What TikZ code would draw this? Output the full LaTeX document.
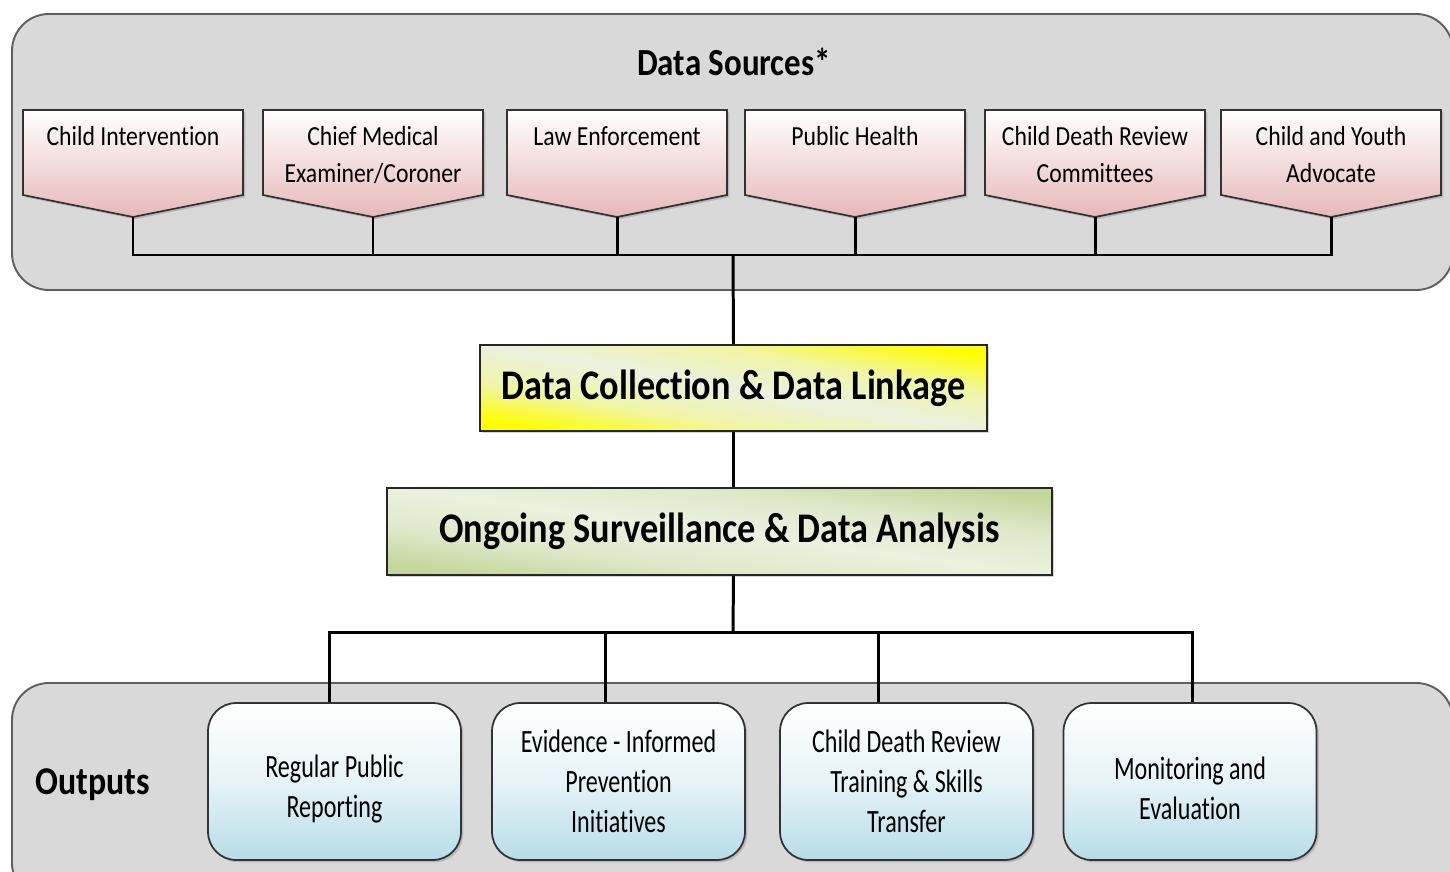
\documentclass[tikz,border=0pt]{standalone}
\usepackage{fontspec}
\setmainfont{Carlito}[FakeStretch=0.86, Ligatures=NoCommon]
\newfontfamily\condfont{Carlito}[FakeStretch=0.74, Ligatures=NoCommon]
\usetikzlibrary{calc,shadows}

\definecolor{panelgray}{HTML}{D9D9D9}
\definecolor{paneledge}{HTML}{5F5F5F}
\definecolor{srcpink}{HTML}{E6B9B8}
\definecolor{outblue}{HTML}{B7DDE8}
\definecolor{palegreen}{HTML}{EBF1DE}
\definecolor{olivegreen}{HTML}{C3D69B}

% pale along the diagonal, coloured lower left and upper right corners
\pgfdeclarehorizontalshading{dcshade}{100bp}{color(0bp)=(yellow); color(25bp)=(yellow);
  color(37.5bp)=(palegreen!75!yellow); color(50bp)=(palegreen);
  color(62.5bp)=(palegreen!75!yellow); color(75bp)=(yellow); color(100bp)=(yellow)}
\pgfdeclarehorizontalshading{osshade}{100bp}{color(0bp)=(olivegreen); color(25bp)=(olivegreen);
  color(37.5bp)=(palegreen!70!olivegreen); color(50bp)=(palegreen);
  color(62.5bp)=(palegreen!70!olivegreen); color(75bp)=(olivegreen); color(100bp)=(olivegreen)}

\begin{document}
\begin{tikzpicture}[
  x=0.02cm, y=-0.02cm,
  every node/.style={inner sep=1pt},
  boxshadow/.style={drop shadow={shadow xshift=1.3pt, shadow yshift=-1.3pt, opacity=0.35}},
  panel/.style={draw=paneledge, line width=1.1pt, fill=panelgray, rounded corners=21pt},
  srcbox/.style={draw=black!80, line width=1pt, top color=white, bottom color=srcpink, boxshadow},
  srctext/.style={anchor=base, inner sep=0pt, align=center, font=\fontsize{15.7}{21}\selectfont},
  title/.style={font=\bfseries\fontsize{21.8}{26}\selectfont},
  stage/.style={draw=black!85, line width=1pt, boxshadow,
    font=\bfseries\fontsize{24}{28}\selectfont},
  outbox/.style={draw=black!80, line width=1pt, rounded corners=16pt, align=center,
    minimum width=5.06cm, minimum height=3.14cm, top color=white, bottom color=outblue,
    middle color=outblue!35, boxshadow, font=\condfont\fontsize{18.5}{22.7}\selectfont},
  link/.style={draw, line width=1.7pt}]

  \useasboundingbox (0,0) rectangle (1450,872);
  \clip (0,0) rectangle (1450,872);

  % the two grey panels
  \path[panel] (12,14) rectangle (1453,290);
  \path[panel] (12,683) rectangle (1453,900);

  \node[title] (sources) at (734,62) {Data Sources*};
  \node[title, font=\bfseries\fontsize{22.4}{26}\selectfont] (outputs) at (93,785) {Outputs};

  % data sources (y = baseline of the last line)
  \foreach \id/\cx/\by/\txt in {ci/133/145/{Child Intervention},
      cme/373/182/{Chief Medical\\Examiner/Coroner},
      le/617/145/{Law Enforcement},
      ph/855/145/{Public Health},
      cdr/1095/182/{Child Death Review\\Committees},
      cya/1331/182/{Child and Youth\\Advocate}} {
    \path[srcbox] (\cx-110,110) -- (\cx+110,110) -- (\cx+110,195) -- (\cx,217)
      -- (\cx-110,195) -- cycle;
    \node[srctext] (\id) at (\cx,\by) {\txt};
    \coordinate (\id-tip) at (\cx,217);
  }

  \node[stage, shading=dcshade, shading angle=80.4, minimum width=10.14cm, minimum height=1.72cm]
    (dc) at (733.5,388) {Data Collection \& Data Linkage};
  \node[stage, shading=osshade, shading angle=82.5, minimum width=13.3cm, minimum height=1.74cm]
    (os) at (719.5,531.5) {Ongoing Surveillance \& Data Analysis};

  % outputs
  \node[outbox] (rpr) at (334.5,781.5) {\rule{0pt}{21pt}Regular Public\\Reporting};
  \node[outbox] (epi) at (618.5,781.5) {Evidence - Informed\\Prevention\\Initiatives};
  \node[outbox] (cdt) at (906.5,781.5) {Child Death Review\\Training \& Skills\\Transfer};
  \node[outbox] (mev) at (1190,781.5) {\rule{0pt}{21pt}Monitoring and\\Evaluation};

  % connectors
  \coordinate (sbus) at (733,255);
  \coordinate (obus) at (733,632);
  \draw[link] (ci-tip) |- (sbus) -| (cya-tip);
  \draw[link] (cme-tip) -- (cme-tip |- sbus);
  \draw[link] (le-tip) -- (le-tip |- sbus);
  \draw[link] (ph-tip) -- (ph-tip |- sbus);
  \draw[link] (cdr-tip) -- (cdr-tip |- sbus);
  \draw[link] (sbus) -- (dc.north);
  \draw[link] (dc.south) -- (dc.south |- os.north);
  \draw[link] (dc.south |- os.south) -- (obus);

  \draw[link] ($(rpr.north)+(-5,0)$) |- (obus) -| ($(mev.north)+(2,0)$);
  \draw[link] ($(epi.north)+(-13,0)$) -- ++(0,-71);
  \draw[link] ($(cdt.north)+(-28,0)$) -- ++(0,-71);

\end{tikzpicture}
\end{document}
